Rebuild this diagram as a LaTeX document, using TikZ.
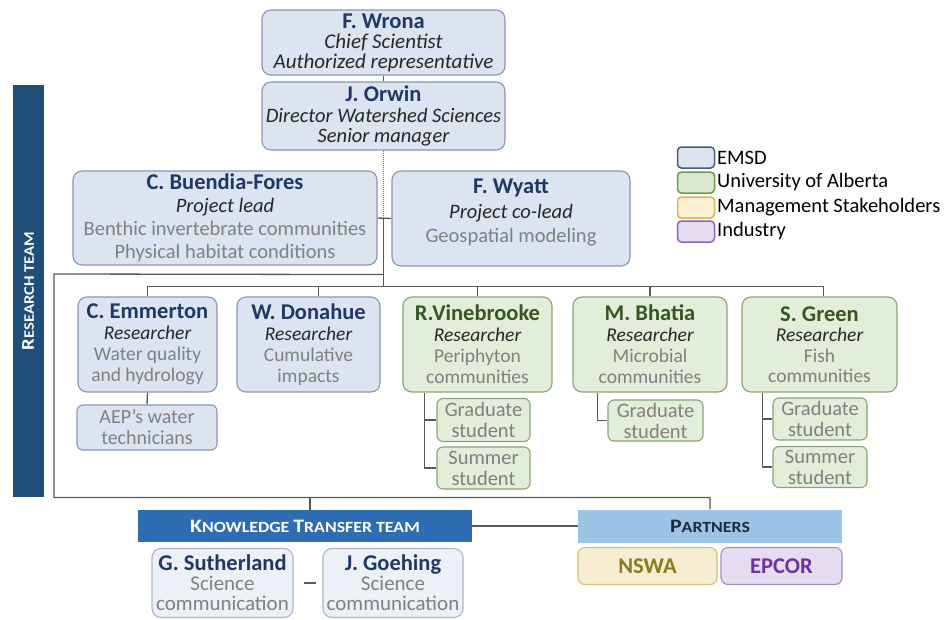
\documentclass[tikz,border=0pt]{standalone}
\usepackage{fontspec}
\setmainfont{Carlito}
\newfontfamily\scfont[FakeStretch=1.15]{Carlito}
\usetikzlibrary{calc}
\definecolor{emsdfill}{HTML}{DCE4F1}
\definecolor{emsddraw}{HTML}{8797B0}
\definecolor{uofafill}{HTML}{E2EED9}
\definecolor{uofadraw}{HTML}{87A377}
\definecolor{navy}{HTML}{1F3864}
\definecolor{dkgreen}{HTML}{375623}
\definecolor{descgray}{HTML}{808080}
\definecolor{rolec}{HTML}{262626}
\definecolor{linec}{HTML}{595959}
\definecolor{rtblue}{HTML}{1F4E79}
\definecolor{ktblue}{HTML}{2E6DB4}
\definecolor{ptblue}{HTML}{9DC3E6}
\definecolor{pttext}{HTML}{1B2A3F}
\definecolor{nswafill}{HTML}{F6EDD3}
\definecolor{nswadraw}{HTML}{D9BE6A}
\definecolor{nswatext}{HTML}{8C7A1F}
\definecolor{epcfill}{HTML}{E6DCF0}
\definecolor{epcdraw}{HTML}{A68BC4}
\definecolor{epctext}{HTML}{7030A0}
\definecolor{lgemsd}{HTML}{4A5A7A}
\definecolor{lggreen}{HTML}{6A9A50}
\definecolor{lggreenfill}{HTML}{D9E8D0}
\definecolor{lggold}{HTML}{D6B656}
\definecolor{lggoldfill}{HTML}{FBEFD2}
\definecolor{lgpurple}{HTML}{9060C0}
\definecolor{lgpurplefill}{HTML}{E6DCF0}
\newcommand{\nmblue}[1]{{\fontsize{22.5}{20}\selectfont\bfseries\color{navy}#1}}
\newcommand{\nmgreen}[1]{{\fontsize{22.5}{20}\selectfont\bfseries\color{dkgreen}#1}}
\newcommand{\rolet}[1]{{\itshape\color{rolec}#1}}
\newcommand{\dsc}[1]{{\color{descgray}#1}}
\begin{document}
\begin{tikzpicture}[x=1pt,y=-1pt,
  box/.style={rounded corners=9pt, line width=1.1pt, align=center, inner sep=0pt},
  emsd/.style={box, draw=emsddraw, fill=emsdfill},
  uofa/.style={box, draw=uofadraw, fill=uofafill},
  small/.style={rounded corners=6pt},
  txt/.style={align=center, inner sep=0pt},
  conn/.style={draw=linec, line width=1.3pt},
  dotconn/.style={draw=linec!70, line width=1pt, densely dotted},
  swatch/.style={rounded corners=4pt, line width=1.5pt, minimum width=37pt, minimum height=21pt, inner sep=0pt},
  lgtext/.style={anchor=west, inner sep=0pt, font=\fontsize{20.5}{20}\selectfont}
]
\fill[white] (0,0) rectangle (948,619);
\useasboundingbox (0,0) rectangle (948,619);

% research team bar
\node[fill=rtblue, minimum width=412pt, minimum height=31pt, inner sep=0pt, rotate=90, text=white] (rt) at (28,291)
  {\scfont\bfseries{\fontsize{18}{18}\selectfont R}{\fontsize{14.5}{18}\selectfont ESEARCH TEAM}};

% top
\node[emsd, minimum width=243pt, minimum height=65pt, font=\fontsize{21}{20}\selectfont] (wrona) at (383.5,42.5)
  {\nmblue{F. Wrona}\\\rolet{Chief Scientist}\\\rolet{Authorized representative}};
\node[emsd, minimum width=243pt, minimum height=68pt, font=\fontsize{20.5}{20.5}\selectfont] (orwin) at (383.5,116)
  {\nmblue{J. Orwin}\\\rolet{Director Watershed Sciences}\\\rolet{Senior manager}};

\node[emsd, minimum width=304pt, minimum height=94pt, font=\fontsize{20.5}{23}\selectfont] (buendia) at (225,218)
  {\nmblue{C. Buendia-Fores}\\\rolet{Project lead}\\\dsc{Benthic invertebrate communities}\\\dsc{Physical habitat conditions}};
\node[emsd, minimum width=238pt, minimum height=95pt] (wyatt) at (511,218.5) {};
\node[txt, font=\fontsize{20.5}{24.5}\selectfont] (wyattt) at ([yshift=6pt]wyatt.center)
  {\nmblue{F. Wyatt}\\\rolet{Project co-lead}\\\dsc{Geospatial modeling}};

% researchers
\node[emsd, minimum width=139pt, minimum height=95pt, font=\fontsize{19.5}{21}\selectfont] (emmerton) at (147.5,344.5)
  {\nmblue{C. Emmerton}\\\rolet{Researcher}\\\dsc{Water quality}\\\dsc{and hydrology}};
\node[emsd, minimum width=143pt, minimum height=95pt, font=\fontsize{19.5}{21}\selectfont] (donahue) at (308.5,344.5)
  {\nmblue{W. Donahue}\\\rolet{Researcher}\\\dsc{Cumulative}\\\dsc{impacts}};
\node[uofa, minimum width=149pt, minimum height=95pt, font=\fontsize{19.5}{21}\selectfont] (vine) at (477.5,344.5)
  {\nmgreen{R.Vinebrooke}\\\rolet{Researcher}\\\dsc{Periphyton}\\\dsc{communities}};
\node[uofa, minimum width=154pt, minimum height=95pt, font=\fontsize{19.5}{21}\selectfont] (bhatia) at (650,344.5)
  {\nmgreen{M. Bhatia}\\\rolet{Researcher}\\\dsc{Microbial}\\\dsc{communities}};
\node[uofa, minimum width=155pt, minimum height=95pt, font=\fontsize{19.5}{20.5}\selectfont] (green) at (819.5,344.5)
  {\nmgreen{S. Green}\\\rolet{Researcher}\\\dsc{Fish}\\\dsc{communities}};

% sub boxes
\node[emsd, small, minimum width=140pt, minimum height=45pt, font=\fontsize{20}{21}\selectfont] (aep) at (147,427.5)
  {\dsc{AEP’s water}\\\dsc{technicians}};
\node[uofa, small, minimum width=93pt, minimum height=43pt, font=\fontsize{20.5}{21}\selectfont] (vgrad) at (483.5,420)
  {\dsc{Graduate}\\\dsc{student}};
\node[uofa, small, minimum width=93pt, minimum height=42pt, font=\fontsize{20.5}{21}\selectfont] (vsum) at (483.5,468)
  {\dsc{Summer}\\\dsc{student}};
\node[uofa, small, minimum width=95pt, minimum height=41pt, font=\fontsize{20.5}{21}\selectfont] (bgrad) at (655.5,420.5)
  {\dsc{Graduate}\\\dsc{student}};
\node[uofa, small, minimum width=94pt, minimum height=42pt, font=\fontsize{20.5}{21}\selectfont] (ggrad) at (820,419)
  {\dsc{Graduate}\\\dsc{student}};
\node[uofa, small, minimum width=94pt, minimum height=41pt, font=\fontsize{20.5}{21}\selectfont] (gsum) at (820,467)
  {\dsc{Summer}\\\dsc{student}};

% legend
\node[swatch, draw=lgemsd, fill=emsdfill] (l1) at (696,157.5) {};
\node[swatch, draw=lggreen, fill=lggreenfill] (l2) at (696,182.5) {};
\node[swatch, draw=lggold, fill=lggoldfill] (l3) at (696,207.5) {};
\node[swatch, draw=lgpurple, fill=lgpurplefill] (l4) at (696,231.5) {};
\node[lgtext] (t1) at (717,157.5) {EMSD};
\node[lgtext] (t2) at (717,182.5) {University of Alberta};
\node[lgtext] (t3) at (717,207.5) {Management Stakeholders};
\node[lgtext] (t4) at (717,231.5) {Industry};

% bottom
\node[fill=ktblue, minimum width=334pt, minimum height=32pt, inner sep=0pt, text=white] (kt) at (305,526)
  {\scfont\bfseries{\fontsize{19}{19}\selectfont K}{\fontsize{15.5}{19}\selectfont NOWLEDGE }{\fontsize{19}{19}\selectfont T}{\fontsize{15.5}{19}\selectfont RANSFER TEAM}};
\node[fill=ptblue, minimum width=264pt, minimum height=33pt, inner sep=0pt, text=pttext] (partners) at (710,526)
  {\scfont\bfseries{\fontsize{19}{19}\selectfont P}{\fontsize{15.5}{19}\selectfont ARTNERS}};
\node[box, rounded corners=7pt, draw=nswadraw, fill=nswafill, minimum width=139pt, minimum height=37pt, text=nswatext, font=\fontsize{22.5}{20}\selectfont\bfseries] (nswa) at (647.5,566) {NSWA};
\node[box, rounded corners=7pt, draw=epcdraw, fill=epcfill, minimum width=121pt, minimum height=37pt, text=epctext, font=\fontsize{22.5}{20}\selectfont\bfseries] (epcor) at (781.5,566) {EPCOR};
\node[box, draw=emsddraw!70, fill=emsdfill!55, minimum width=141pt, minimum height=69pt, font=\fontsize{21}{20}\selectfont] (suth) at (222.5,583)
  {\nmblue{G. Sutherland}\\\dsc{Science}\\\dsc{communication}};
\node[box, draw=emsddraw!70, fill=emsdfill!55, minimum width=140pt, minimum height=69pt, font=\fontsize{21}{20}\selectfont] (goeh) at (393,583)
  {\nmblue{J. Goehing}\\\dsc{Science}\\\dsc{communication}};

% connectors
\draw[conn] (wrona) -- (orwin);
\coordinate (j1) at (orwin.south |- buendia.east);
\coordinate (j3) at ($(orwin.south |- buendia.south)+(0,9)$);
\coordinate (bus) at (0,286.5);
\coordinate (j2) at (orwin.south |- bus);
\coordinate (tlc) at (54,274);
\coordinate (blc) at (54,497.5);
\draw[dotconn] (orwin.south) -- (j1);
\draw[conn] (buendia.east) -- (wyatt.west);
\draw[conn] (j1) -- (j2);
\draw[conn] (j3) -- (tlc) -- (blc) -| (partners.north);
\draw[conn] ([xshift=5pt]kt.north |- blc) -- ([xshift=5pt]kt.north);
\draw[conn] (emmerton.north) -- (emmerton.north |- bus) -- ([xshift=4pt]green.north |- bus) -- ([xshift=4pt]green.north);
\draw[conn] ([xshift=10pt]donahue.north) -- ([xshift=10pt]donahue.north |- bus);
\draw[conn] (vine.north) -- (vine.north |- bus);
\draw[conn] (bhatia.north) -- (bhatia.north |- bus);
\draw[conn] (emmerton.south) -- (aep.north);
\coordinate (v0) at ([xshift=22pt]vine.south west);
\draw[conn] (v0) |- (vgrad.west);
\draw[conn] (v0) |- (vsum.west);
\coordinate (b0) at ([xshift=25pt]bhatia.south west);
\draw[conn] (b0) |- (bgrad.west);
\coordinate (g0) at ([xshift=21pt]green.south west);
\draw[conn] (g0) |- (ggrad.west);
\draw[conn] (g0) |- (gsum.west);
\draw[conn] (kt.east) -- (partners.west);
\draw[conn] ([xshift=10pt]suth.east) -- ([xshift=-6pt]goeh.west);
\end{tikzpicture}
\end{document}
